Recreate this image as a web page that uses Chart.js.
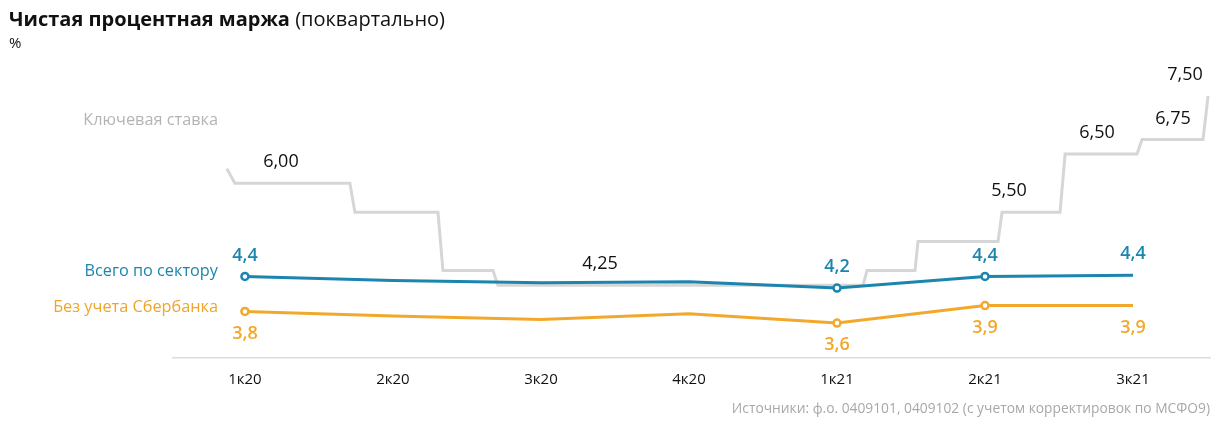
<!DOCTYPE html>
<html><head><meta charset="utf-8">
<script src="https://cdn.jsdelivr.net/npm/chart.js@4/dist/chart.umd.min.js"></script>
<style>
html,body{margin:0;padding:0;background:#fff;width:1226px;height:422px;overflow:hidden;font-family:"Open Sans",Roboto,sans-serif;}
#wrap{position:absolute;left:0;top:0;width:1226px;height:422px;}
.t{position:absolute;white-space:nowrap;}
#title{left:9px;top:5px;font-size:20px;color:#111;}
#title b{font-weight:700;}
#unit{left:9px;top:32px;font-size:15px;color:#111;}
#src{right:16px;top:398px;font-size:13.8px;color:#a8a8a8;}
.sl{right:1008px;font-size:16.3px;}
</style></head>
<body>
<div id="wrap"><canvas id="c" width="1226" height="422"></canvas></div>
<div class="t" id="title"><b>Чистая процентная маржа</b> (поквартально)</div>
<div class="t" id="unit">%</div>
<div class="t sl" style="top:108px;color:#b4b4b4;">Ключевая ставка</div>
<div class="t sl" style="top:259px;color:#1c85ae;">Всего по сектору</div>
<div class="t sl" style="top:295px;color:#f0a52a;">Без учета Сбербанка</div>
<div class="t" id="src">Источники: ф.о. 0409101, 0409102 (с учетом корректировок по МСФО9)</div>
<script>
const categories = ["1к20","2к20","3к20","4к20","1к21","2к21","3к21"];
const totalSector = [4.4, 4.33, 4.29, 4.31, 4.2, 4.4, 4.42];
const exSberbank = [3.8, 3.72, 3.66, 3.76, 3.6, 3.9, 3.9];
const totalLabelIdx = [0, 4, 5, 6];
const exSberLabelIdx = [0, 4, 5, 6];
const markerIdx = [0, 4, 5];
// key rate steps: position in quarters (1к20 = 0) and rate, %
const keyRateX = [-0.122, -0.068, 0.709, 0.743, 1.304, 1.338, 1.676, 1.709, 4.176, 4.203, 4.527, 4.547, 5.088, 5.115, 5.507, 5.541, 6.027, 6.061, 6.473, 6.507];
const keyRateY = [6.25, 6.00, 6.00, 5.50, 5.50, 4.50, 4.50, 4.25, 4.25, 4.50, 4.50, 5.00, 5.00, 5.50, 5.50, 6.50, 6.50, 6.75, 6.75, 7.50];
const keyRateLabelX = [0.243, 2.399, 5.162, 5.757, 6.270, 6.351];
const keyRateLabelY = [6.00, 4.25, 5.50, 6.50, 6.75, 7.50];
const keyRateLabelText = ["6,00", "4,25", "5,50", "6,50", "6,75", "7,50"];

const BLUE = '#1c85ae', ORANGE = '#f2a92b', GREY = '#d6d6d6';
const FONT = '"Open Sans", Roboto, sans-serif';
const fmt = v => v.toFixed(1).replace('.', ',');

const labelsPlugin = {
  id: 'labelsPlugin',
  afterDatasetsDraw(chart) {
    const ctx = chart.ctx;
    const xs = chart.scales.x, ys = chart.scales.y;
    ctx.save();
    ctx.textAlign = 'center';
    ctx.textBaseline = 'middle';
    ctx.font = '400 18px ' + FONT;
    ctx.fillStyle = '#111';
    keyRateLabelText.forEach((t, i) => {
      ctx.fillText(t, xs.getPixelForValue(keyRateLabelX[i]), ys.getPixelForValue(keyRateLabelY[i]) - 21);
    });
    ctx.font = '600 18px ' + FONT;
    const m1 = chart.getDatasetMeta(1), m2 = chart.getDatasetMeta(2);
    ctx.fillStyle = BLUE;
    totalLabelIdx.forEach(i => {
      const p = m1.data[i];
      ctx.fillText(fmt(totalSector[i]), p.x, p.y - 21);
    });
    ctx.fillStyle = ORANGE;
    exSberLabelIdx.forEach(i => {
      const p = m2.data[i];
      ctx.fillText(fmt(exSberbank[i]), p.x, p.y + 22);
    });
    ctx.restore();
  }
};

const radii = categories.map((_, i) => markerIdx.includes(i) ? 3.5 : 0);

new Chart(document.getElementById('c'), {
  type: 'line',
  data: {
    datasets: [
      { label: 'Ключевая ставка', data: keyRateX.map((x, i) => ({x, y: keyRateY[i]})), borderColor: GREY, borderWidth: 3, pointRadius: 0, tension: 0, order: 3 },
      { label: 'Всего по сектору', data: categories.map((c, i) => ({x: i, y: totalSector[i]})), borderColor: BLUE, backgroundColor: '#fff', borderWidth: 3, pointRadius: radii, pointBorderWidth: 2.5, pointBackgroundColor: '#fff', pointBorderColor: BLUE, tension: 0, order: 1 },
      { label: 'Без учета Сбербанка', data: categories.map((c, i) => ({x: i, y: exSberbank[i]})), borderColor: ORANGE, backgroundColor: '#fff', borderWidth: 3, pointRadius: radii, pointBorderWidth: 2.5, pointBackgroundColor: '#fff', pointBorderColor: ORANGE, tension: 0, order: 2 }
    ]
  },
  options: {
    responsive: false,
    animation: false,
    devicePixelRatio: 1,
    layout: { padding: { left: 173, right: 16, top: 90, bottom: 20 } },
    plugins: { legend: { display: false }, tooltip: { enabled: false } },
    scales: {
      x: {
        type: 'linear', min: -0.486, max: 6.52,
        afterBuildTicks: s => { s.ticks = categories.map((c, i) => ({value: i})); },
        ticks: { callback: v => categories[v] ?? '', color: '#111', font: { family: FONT, size: 15 }, padding: 13, maxRotation: 0, autoSkip: false },
        grid: { display: false, drawTicks: false },
        border: { display: true, color: '#dcdcdc', width: 1.5 }
      },
      y: { display: false, min: 3.0, max: 7.6 }
    }
  },
  plugins: [labelsPlugin]
});
</script>
</body></html>
